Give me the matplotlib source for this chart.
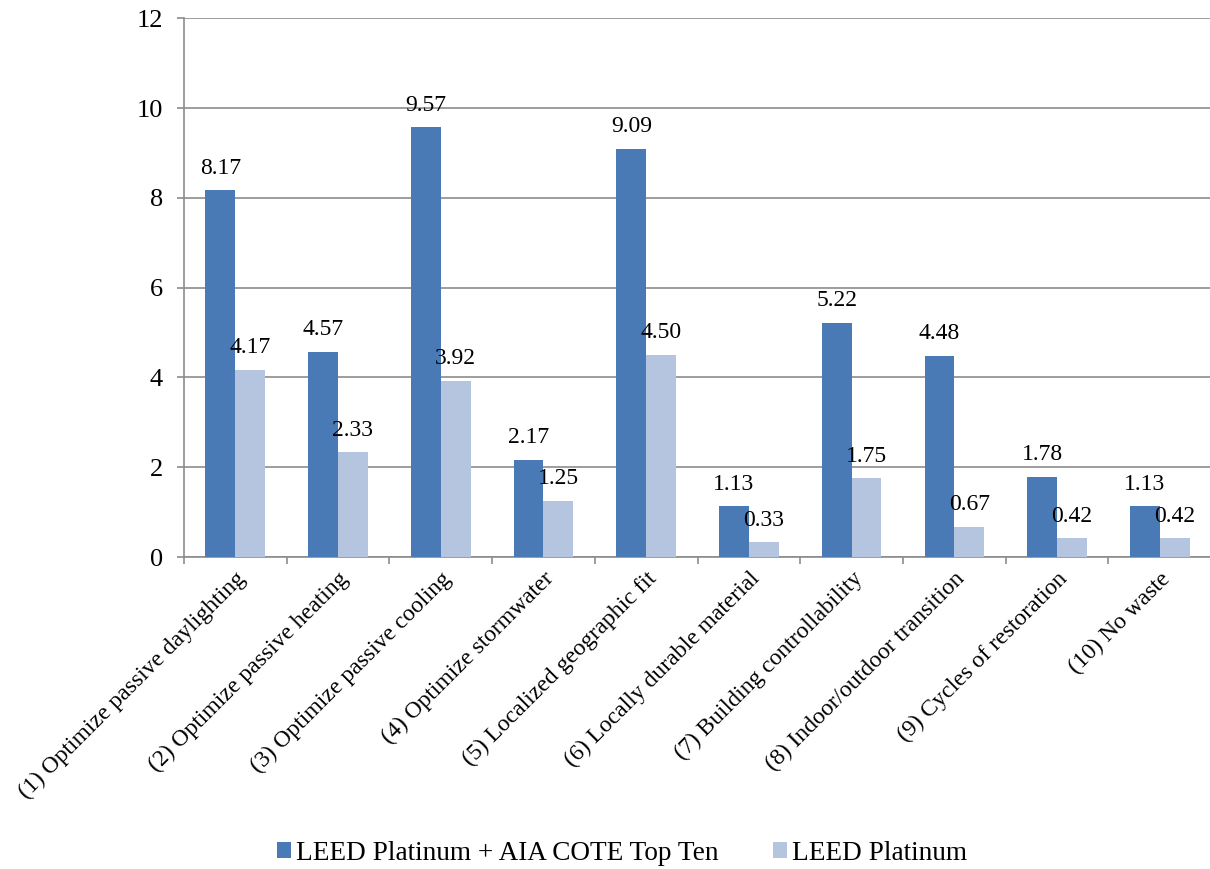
import matplotlib
matplotlib.use("Agg")
import matplotlib.pyplot as plt
import numpy as np

plt.rcParams['font.family'] = ['Liberation Serif', 'DejaVu Serif']

categories = [
    "(1) Optimize passive daylighting",
    "(2) Optimize passive heating",
    "(3) Optimize passive cooling",
    "(4) Optimize stormwater",
    "(5) Localized geographic fit",
    "(6) Locally durable material",
    "(7) Building controllability",
    "(8) Indoor/outdoor transition",
    "(9) Cycles of restoration",
    "(10) No waste",
]
top_ten = [8.17, 4.57, 9.57, 2.17, 9.09, 1.13, 5.22, 4.48, 1.78, 1.13]
platinum = [4.17, 2.33, 3.92, 1.25, 4.50, 0.33, 1.75, 0.67, 0.42, 0.42]
series_names = ["LEED Platinum + AIA COTE Top Ten", "LEED Platinum"]
colors = ["#4A7AB6", "#B5C5E0"]

fig = plt.figure(figsize=(12.1, 8.69), dpi=100)
ax = fig.add_axes([0.152, 0.359, 0.849, 0.62])

x = np.arange(len(categories))
w = 0.29
b1 = ax.bar(x - w / 2, top_ten, w, color=colors[0], label=series_names[0], zorder=3)
b2 = ax.bar(x + w / 2, platinum, w, color=colors[1], label=series_names[1], zorder=3)

# value labels above each bar
for bars, vals in ((b1, top_ten), (b2, platinum)):
    for r, v in zip(bars, vals):
        ax.annotate(f"{v:.2f}", (r.get_x() + r.get_width() / 2, v),
                    xytext=(0, 12), textcoords='offset points',
                    ha='center', va='baseline', fontsize=17, zorder=4)

ax.set_ylim(0, 12)
ax.set_xlim(-0.5, len(categories) - 0.5)
ax.set_yticks(np.arange(0, 13, 2))
ax.yaxis.grid(True, color='#8c8c8c', linewidth=1.2, zorder=0)
ax.tick_params(axis='y', length=5, width=1.2, color='#8c8c8c', pad=10, labelsize=19)

# category ticks sit between the groups, labels at the group centers
ax.set_xticks(x)
ax.set_xticklabels(categories, rotation=45, ha='right', va='top',
                   rotation_mode='anchor', fontsize=17)
ax.set_xticks(np.arange(-0.5, len(categories)), minor=True)
ax.tick_params(axis='x', which='major', length=0, pad=8)
ax.tick_params(axis='x', which='minor', length=5, width=1.2, color='#8c8c8c')

for s in ('top', 'right'):
    ax.spines[s].set_visible(False)
for s in ('left', 'bottom'):
    ax.spines[s].set_color('#8c8c8c')
    ax.spines[s].set_linewidth(1.2)

fig.legend(handles=[b1, b2], loc='center', bbox_to_anchor=(0.514, 0.018),
           ncol=2, frameon=False, fontsize=19.6, handlelength=0.5,
           handleheight=0.5, handletextpad=0.2, columnspacing=2.0)

fig.savefig("out.png", dpi=100)
